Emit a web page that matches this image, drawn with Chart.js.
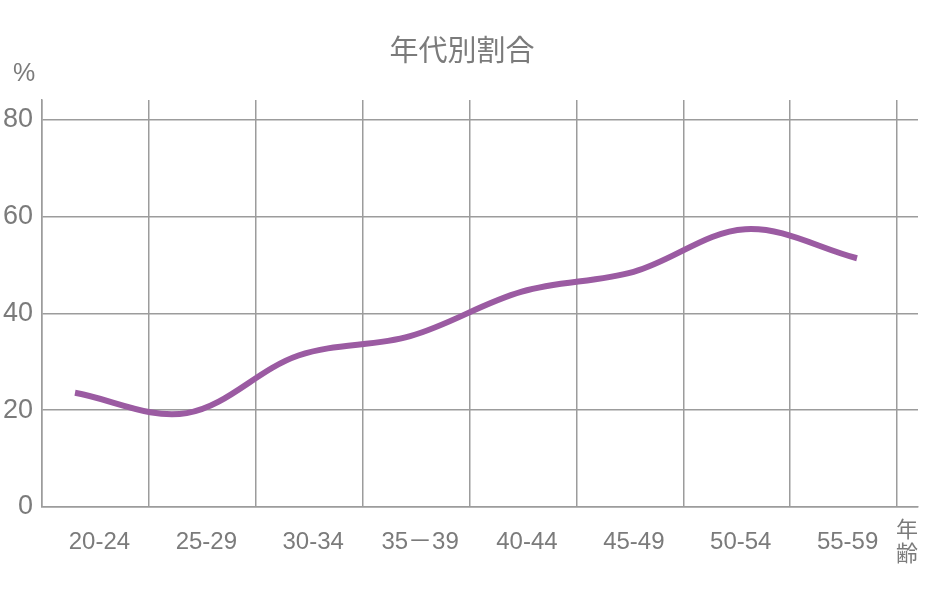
<!DOCTYPE html>
<html>
<head>
<meta charset="utf-8">
<script src="https://cdn.jsdelivr.net/npm/chart.js@4"></script>
<style>
  html, body { margin: 0; padding: 0; background: #ffffff; }
  #wrap { width: 928px; height: 598px; position: relative; }
</style>
</head>
<body>
<div id="wrap"><canvas id="c" width="928" height="598"></canvas></div>
<script>
// ---- data ----
const chartTitle = '年代別割合';
const yUnitLabel = '%';
const xUnitLabel = ['年', '齢'];
const categories = ['20-24', '25-29', '30-34', '35－39', '40-44', '45-49', '50-54', '55-59'];
const shareValues = [23.6, 19.4, 31.3, 35.3, 44.5, 48.6, 57.4, 51.4];
const yTickValues = [0, 20, 40, 60, 80];

const TEXT_COLOR = '#7b7b7b';
const GRID_COLOR = '#9c9c9c';
const FONT = '"Liberation Sans", "Noto Sans CJK JP", sans-serif';
const CJK_FONT = '"Noto Sans CJK JP", sans-serif';

const textPlugin = {
  id: 'extraText',
  afterDraw(chart) {
    const ctx = chart.ctx;
    ctx.save();
    ctx.fillStyle = TEXT_COLOR;
    ctx.textAlign = 'center';
    ctx.textBaseline = 'middle';
    ctx.font = '29px ' + CJK_FONT;
    ctx.fillText(chartTitle, 462, 50);
    ctx.font = '25px ' + FONT;
    ctx.fillText(yUnitLabel, 24, 74);
    ctx.font = '22px ' + CJK_FONT;
    ctx.fillText(xUnitLabel[0], 907, 529);
    ctx.fillText(xUnitLabel[1], 907, 553);
    ctx.restore();
  }
};

new Chart(document.getElementById('c'), {
  type: 'line',
  data: {
    datasets: [{
      data: shareValues.map((v, i) => ({ x: i, y: v })),
      xAxisID: 'x2',
      yAxisID: 'y',
      borderColor: '#9b5ba2',
      borderWidth: 6,
      pointRadius: 0,
      tension: 0.35,
      fill: false
    }]
  },
  options: {
    responsive: false,
    animation: false,
    layout: { padding: { top: 100, right: 10, left: 0, bottom: 0 } },
    plugins: { legend: { display: false }, tooltip: { enabled: false }, title: { display: false } },
    scales: {
      x: {
        type: 'linear',
        position: 'bottom',
        min: 0,
        max: 8.196,
        afterBuildTicks(scale) {
          const t = [];
          for (let i = 0; i <= categories.length * 2; i++) t.push({ value: i / 2 });
          scale.ticks = t;
        },
        afterFit(scale) { scale.height = 91; },
        grid: {
          drawTicks: false,
          color: (ctx) => (ctx.tick && Number.isInteger(ctx.tick.value)) ? GRID_COLOR : 'rgba(0,0,0,0)',
          lineWidth: 1.5
        },
        border: { display: true, color: GRID_COLOR, width: 1.5 },
        ticks: {
          autoSkip: false,
          maxRotation: 0,
          padding: 21,
          labelOffset: 4,
          color: TEXT_COLOR,
          font: { family: FONT, size: 24 },
          callback: (v) => Number.isInteger(v) ? '' : categories[Math.floor(v)]
        }
      },
      x2: {
        type: 'linear',
        display: false,
        min: -0.2954,
        max: 7.546
      },
      y: {
        type: 'linear',
        min: 0,
        max: 84.1,
        afterBuildTicks(scale) { scale.ticks = yTickValues.map(v => ({ value: v })); },
        afterFit(scale) { scale.width = 42; },
        grid: { drawTicks: false, color: GRID_COLOR, lineWidth: 1.5 },
        border: { display: true, color: GRID_COLOR, width: 1.5 },
        ticks: {
          padding: 9,
          color: TEXT_COLOR,
          font: { family: FONT, size: 27 }
        }
      }
    }
  },
  plugins: [textPlugin]
});
</script>
</body>
</html>
